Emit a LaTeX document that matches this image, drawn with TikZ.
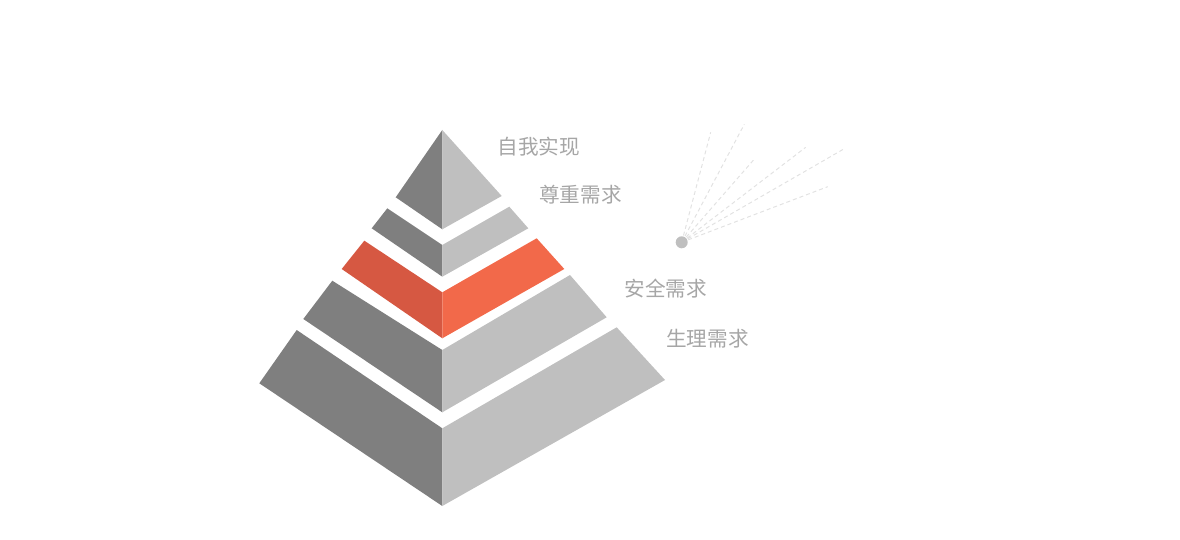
\documentclass[tikz,border=0pt]{standalone}
\usepackage{fontspec}
\newfontfamily\cjk{Noto Sans CJK SC}
\definecolor{darkg}{HTML}{7F7F7F}
\definecolor{lightg}{HTML}{BFBFBF}
\definecolor{orl}{HTML}{D65842}
\definecolor{orr}{HTML}{F2694A}
\definecolor{txt}{HTML}{A6A6A6}
\definecolor{ray}{HTML}{E2E2E2}
\begin{document}
\begin{tikzpicture}[x=1pt,y=-1pt,
  lbl/.style={anchor=west,inner sep=0pt,text=txt,font=\cjk\fontsize{20.6}{21}\selectfont},
  rayline/.style={draw=ray,line width=1pt,dash pattern=on 4pt off 3pt},
  dotnode/.style={circle,fill=lightg,minimum size=12pt,inner sep=0pt}]
\useasboundingbox (0,0) rectangle (1180,540);
% level 1 (top)
\fill[darkg] (442.3,130) -- (395.7,197.3) -- (442.3,229.3) -- cycle;
\fill[lightg] (442.3,130) -- (501.7,196) -- (442.3,229.3) -- cycle;
% level 2
\fill[darkg] (387.3,208.3) -- (371.7,228.3) -- (442.3,276.7) -- (442.3,245) -- cycle;
\fill[lightg] (442.3,245) -- (442.3,276.7) -- (528.3,228.3) -- (509.3,206.7) -- cycle;
% level 3 (orange)
\fill[orl] (364.3,240.7) -- (341.7,269) -- (442.3,338.3) -- (442.3,292.3) -- cycle;
\fill[orr] (442.3,292.3) -- (442.3,338.3) -- (564.3,269) -- (536.7,238.3) -- cycle;
% level 4
\fill[darkg] (332.3,280.7) -- (303.3,319) -- (442.3,412.3) -- (442.3,350) -- cycle;
\fill[lightg] (442.3,350) -- (442.3,412.3) -- (606.7,317.3) -- (570,275) -- cycle;
% level 5
\fill[darkg] (296.7,330) -- (259.3,383.3) -- (442.3,506) -- (442.3,428.3) -- cycle;
\fill[lightg] (442.3,428.3) -- (442.3,506) -- (665,380) -- (616.7,327.3) -- cycle;
% labels
\node[lbl] (t1) at (497.5,147) {自我实现};
\node[lbl] (t2) at (539,195) {尊重需求};
\node[lbl] (t3) at (624.5,289) {安全需求};
\node[lbl] (t4) at (666,338.5) {生理需求};
% rays
\coordinate (r1) at (710.7,132.3);
\coordinate (r2) at (744.3,124.3);
\coordinate (r3) at (755,158.3);
\coordinate (r4) at (805.7,147.3);
\coordinate (r5) at (845,148.3);
\coordinate (r6) at (827.7,186.7);
\coordinate (c) at (681.7,242.3);
\foreach \r in {r1,r2,r3,r4,r5,r6} \draw[rayline] (c) -- (\r);
\node[dotnode] (dot) at (c) {};
\end{tikzpicture}
\end{document}
